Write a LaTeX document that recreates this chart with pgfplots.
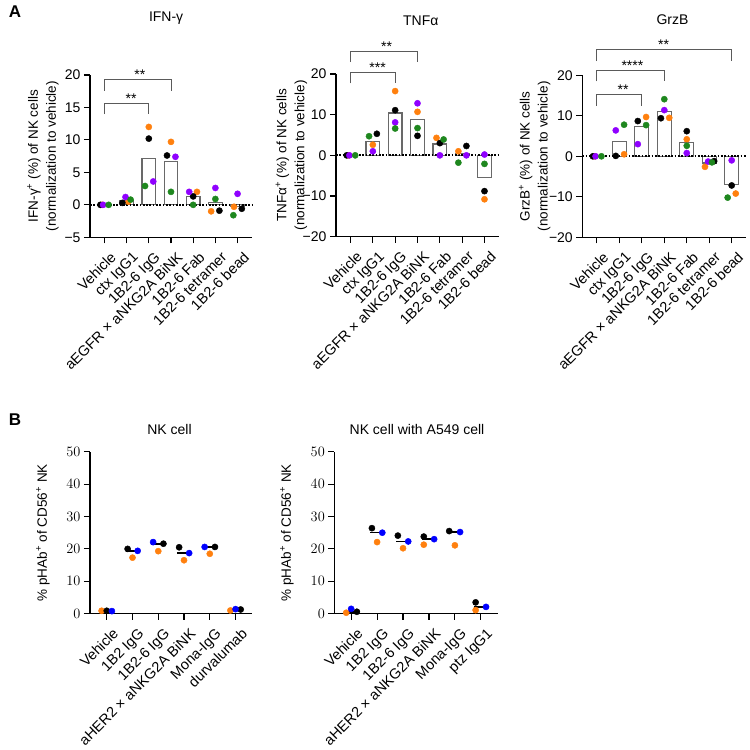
\documentclass[border=0pt]{standalone}
\usepackage{fontspec}
\setmainfont{Liberation Sans}
\usepackage{pgfplots}
\pgfplotsset{compat=1.18}

\definecolor{cOrange}{RGB}{255,128,14}
\definecolor{cPurple}{RGB}{143,0,255}
\definecolor{cGreen}{RGB}{30,135,30}
\definecolor{cBlue}{RGB}{0,0,255}
\definecolor{cBar}{RGB}{105,105,105}
\definecolor{cBracket}{RGB}{90,90,90}

\newcommand{\tck}{\fontsize{14bp}{16bp}\selectfont}
\newcommand{\cat}{\fontsize{14.5bp}{17bp}\selectfont}
\newcommand{\lbl}{\fontsize{13.5bp}{18bp}\selectfont}

\tikzset{
  bracket/.style={cBracket, line width=1bp},
  stars/.style={anchor=south, inner sep=0pt, font=\tck},
}

\pgfplotsset{
  base/.style={
    scale only axis,
    clip=false,
    axis x line*=bottom,
    axis y line*=left,
    axis line style={line width=1.1bp, black},
    tick align=outside,
    major tick length=6bp,
    tick style={line width=1.1bp, black},
    yticklabel style={font=\tck},
    xticklabel style={font=\cat, xshift=5bp, yshift=-6bp, rotate=45, anchor=north east, inner sep=1bp},
    label style={font=\lbl},
    every axis title shift=0pt,
    title style={font=\fontsize{14bp}{16bp}\selectfont, anchor=center},
  },
  panelA/.style={
    base,
    xmin=-0.65, xmax=6.65, xtick={0,...,6},
    xticklabels={Vehicle, ctx IgG1, 1B2-6 IgG, aEGFR × aNKG2A BiNK, 1B2-6 Fab, 1B2-6 tetramer, 1B2-6 bead},
    ylabel style={align=center, at={(axis description cs:-0.29,0.5)}, anchor=center},
  },
  panelB/.style={
    base,
    xmin=-0.65, xmax=5.65, xtick={0,...,5},
    ymin=0, ymax=50, ytick={0,10,20,30,40,50},
    ylabel style={at={(axis description cs:-0.29,0.5)}, anchor=center},
    ylabel={\% pHAb\textsuperscript{+} of CD56\textsuperscript{+} NK},
  },
  dot/.style={only marks, mark=*, mark size=3.1bp, color=#1},
  bars/.style={ybar, bar width=0.62, draw=cBar, fill=white, line width=1.2bp},
  zeroline/.style={black, line width=1.7bp, dash pattern=on 1.7bp off 1.6bp},
  median/.style={only marks, mark=-, mark size=7bp, mark options={line width=1.6bp}, color=black},
}

\begin{document}
\begin{tikzpicture}
\useasboundingbox (0bp,0bp) rectangle (750bp,750bp);

\node[font=\bfseries\fontsize{17bp}{17bp}\selectfont] at (15bp,738bp) {A};
\node[font=\bfseries\fontsize{17bp}{17bp}\selectfont] at (15bp,330bp) {B};

% ---------------- IFN-gamma ----------------
\begin{axis}[panelA,
  at={(90bp,512.7bp)}, anchor=south west, width=162bp, height=162.3bp,
  ymin=-5, ymax=20, ytick={-5,0,5,10,15,20}, yticklabels={−5,0,5,10,15,20},
  title={IFN-γ}, title style={at={(axis description cs:0.47,1.352)}},
  ylabel={IFN-γ\textsuperscript{+} (\%) of NK cells\\(normalization to vehicle)},
]
\addplot[bars] coordinates {(0,0) (1,0.7) (2,7.18) (3,6.68) (4,1.33) (5,0.4) (6,-0.2)};
\addplot[zeroline] coordinates {(-0.65,0) (6.65,0)};
\addplot[dot=cOrange] coordinates {(-0.1,0) (1.07,0.5) (2,12.0) (3,9.7) (4.17,2.0) (4.81,-1.0) (5.84,-0.3)};
\addplot[dot=black]   coordinates {(-0.18,0) (0.81,0.3) (2,10.2) (2.82,7.6) (4,1.3) (5.18,-0.9) (6.19,-0.6)};
\addplot[dot=cPurple] coordinates {(-0.06,0) (0.95,1.2) (2.2,3.6) (3.2,7.4) (3.82,2.0) (5,2.6) (6,1.7)};
\addplot[dot=cGreen]  coordinates {(0.19,0) (1.18,0.8) (1.83,2.9) (3,2.0) (4,0.0) (5,0.9) (5.81,-1.6)};
% significance brackets
\draw[bracket] (axis cs:0,17.58) -- (axis cs:0,19.23) -- (axis cs:3,19.23) -- (axis cs:3,17.58);
\node[stars] at (axis cs:1.6,19.23) {**};
\draw[bracket] (axis cs:0,13.99) -- (axis cs:0,15.58) -- (axis cs:2,15.58) -- (axis cs:2,13.99);
\node[stars] at (axis cs:1.2,15.58) {**};
\end{axis}

% ---------------- TNF-alpha ----------------
\begin{axis}[panelA,
  at={(336bp,513.3bp)}, anchor=south west, width=163bp, height=162.7bp,
  ymin=-20, ymax=20, ytick={-20,-10,0,10,20}, yticklabels={−20,−10,0,10,20},
  title={TNFα}, title style={at={(axis description cs:0.52,1.33)}},
  ylabel={TNFα\textsuperscript{+} (\%) of NK cells\\(normalization to vehicle)},
  ylabel style={at={(axis description cs:-0.273,0.5)}},
]
\addplot[bars] coordinates {(0,0) (1,3.4) (2,10.4) (3,8.75) (4,2.8) (5,0.375) (6,-5.375)};
\addplot[zeroline] coordinates {(-0.65,0) (6.65,0)};
\addplot[dot=cOrange] coordinates {(-0.08,0) (1,2.6) (2,15.8) (3,10.7) (3.85,4.3) (4.83,1.0) (6,-10.8)};
\addplot[dot=black]   coordinates {(-0.17,0) (1.18,5.3) (2,11.1) (3,4.8) (4,3.0) (5.19,2.3) (6,-8.8)};
\addplot[dot=cPurple] coordinates {(-0.05,0) (1,1.0) (2,8.1) (3,12.8) (4,0.0) (5.19,0.0) (6,0.2)};
\addplot[dot=cGreen]  coordinates {(0.21,0) (0.83,4.7) (2,6.6) (3,6.7) (4.17,3.9) (4.83,-1.8) (6,-2.1)};
\draw[bracket] (axis cs:0,22.9) -- (axis cs:0,25.5) -- (axis cs:3,25.5) -- (axis cs:3,22.9);
\node[stars] at (axis cs:1.62,25.5) {**};
\draw[bracket] (axis cs:0,17.7) -- (axis cs:0,20.4) -- (axis cs:2,20.4) -- (axis cs:2,17.7);
\node[stars] at (axis cs:1.21,20.4) {***};
\end{axis}

% ---------------- Granzyme B ----------------
\begin{axis}[panelA,
  at={(582.3bp,512.7bp)}, anchor=south west, width=164bp, height=162bp,
  ymin=-20, ymax=20, ytick={-20,-10,0,10,20}, yticklabels={−20,−10,0,10,20},
  title={GrzB}, title style={at={(axis description cs:0.55,1.341)}},
  ylabel={GrzB\textsuperscript{+} (\%) of NK cells\\(normalization to vehicle)},
]
\addplot[bars] coordinates {(0,0) (1,3.7) (2,7.275) (3,11.1) (4,3.45) (5,-1.65) (6,-6.9)};
\addplot[zeroline] coordinates {(-0.65,0) (6.65,0)};
\addplot[dot=cOrange] coordinates {(-0.1,0) (1.21,0.5) (2.19,9.7) (3.22,9.5) (4,4.2) (4.81,-2.6) (6.18,-9.2)};
\addplot[dot=black]   coordinates {(-0.18,0) (0.84,0.1) (1.82,8.7) (2.85,9.4) (4,6.2) (5.22,-1.2) (6,-7.2)};
\addplot[dot=cPurple] coordinates {(-0.06,0) (0.84,6.4) (1.82,3.0) (3,11.4) (4,0.8) (4.95,-1.3) (6,-1.0)};
\addplot[dot=cGreen]  coordinates {(0.2,0) (1.21,7.8) (2.19,7.7) (3,14.1) (4,2.6) (5.12,-1.5) (5.82,-10.2)};
\draw[bracket] (axis cs:0,23.5) -- (axis cs:0,26.3) -- (axis cs:6,26.3) -- (axis cs:6,23.5);
\node[stars] at (axis cs:2.97,26.3) {**};
\draw[bracket] (axis cs:0,18.5) -- (axis cs:0,21.2) -- (axis cs:3,21.2) -- (axis cs:3,18.5);
\node[stars] at (axis cs:1.58,21.2) {****};
\draw[bracket] (axis cs:0,12.5) -- (axis cs:0,15.3) -- (axis cs:2,15.3) -- (axis cs:2,12.5);
\node[stars] at (axis cs:1.17,15.3) {**};
\end{axis}

% ---------------- NK cell ----------------
\begin{axis}[panelB,
  at={(90bp,136.3bp)}, anchor=south west, width=162.3bp, height=162bp,
  xticklabels={Vehicle, 1B2 IgG, 1B2-6 IgG, aHER2 × aNKG2A BiNK, Mona-IgG, durvalumab},
  title={NK cell}, title style={at={(axis description cs:0.49,1.14)}},
]
\addplot[median] coordinates {(0,0.9) (1,19.4) (2,21.6) (3,18.7) (4,20.6) (5,1.3)};
\addplot[dot=cOrange] coordinates {(-0.2,0.9) (1,17.3) (2,19.3) (3,16.5) (4,18.5) (4.8,1.0)};
\addplot[dot=black]   coordinates {(0,0.9) (0.81,20.0) (2.2,21.6) (2.81,20.5) (4.2,20.6) (5.2,1.3)};
\addplot[dot=cBlue]   coordinates {(0.2,0.8) (1.2,19.4) (1.8,22.1) (3.2,18.7) (3.8,20.6) (5,1.4)};
\end{axis}

% ---------------- NK cell with A549 cell ----------------
\begin{axis}[panelB,
  at={(334.3bp,136.3bp)}, anchor=south west, width=163.4bp, height=162bp,
  xticklabels={Vehicle, 1B2 IgG, 1B2-6 IgG, aHER2 × aNKG2A BiNK, Mona-IgG, ptz IgG1},
  title={NK cell with A549 cell}, title style={at={(axis description cs:0.506,1.14)}},
]
\addplot[median] coordinates {(0,0.6) (1,25.0) (2,22.3) (3,23.0) (4,25.2) (5,2.1)};
\addplot[dot=cOrange] coordinates {(-0.19,0.3) (1,22.1) (2,20.2) (2.8,21.3) (4,21.1) (4.8,1.1)};
\addplot[dot=black]   coordinates {(0.22,0.6) (0.8,26.4) (1.8,24.1) (2.8,23.8) (3.78,25.5) (4.8,3.5)};
\addplot[dot=cBlue]   coordinates {(0,1.5) (1.2,25.0) (2.2,22.3) (3.2,23.0) (4.2,25.2) (5.2,2.1)};
\end{axis}
\end{tikzpicture}
\end{document}
